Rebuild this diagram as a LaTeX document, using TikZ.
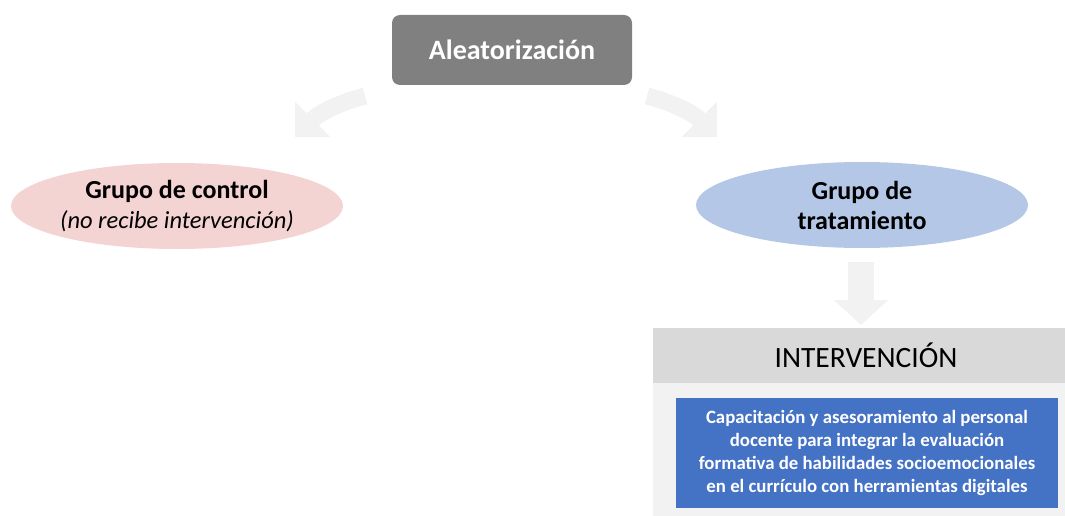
\documentclass[tikz,border=0pt]{standalone}
\usepackage{fontspec}
\setmainfont{Carlito}
\usetikzlibrary{shapes.geometric,arrows.meta}
\definecolor{boxgray}{RGB}{128,128,128}
\definecolor{arrowgray}{RGB}{242,242,242}
\definecolor{headgray}{RGB}{217,217,217}
\definecolor{ctrlpink}{RGB}{244,211,211}
\definecolor{tratblue}{RGB}{180,199,231}
\definecolor{capblue}{RGB}{68,114,196}
\begin{document}
\begin{tikzpicture}[x=1pt,y=-1pt,
  grupo/.style={ellipse,inner sep=0pt,minimum width=332pt,minimum height=86pt,align=center,font=\fontsize{26}{30}\selectfont},
  bigarrow/.style={arrowgray,line width=17pt,-{Triangle[length=25pt,width=48pt]}}]
  \useasboundingbox (0,0) rectangle (1065,516);
  \node[fill=boxgray,rounded corners=8pt,minimum width=240pt,minimum height=70pt,text=white,font=\fontsize{28}{32}\selectfont\bfseries] (aleat) at (512,50) {Aleatorización};
  \node[grupo,fill=ctrlpink] (control) at (177,206) {\textbf{Grupo de control}\\{\fontsize{24.5}{30}\selectfont\itshape (no recibe intervención)}};
  \node[grupo,fill=tratblue] (tratam) at (862,205) {\textbf{Grupo de}\\\textbf{tratamiento}};
  % curved arrows from the randomisation box
  \coordinate (l0) at (365,96);
  \coordinate (l1) at (295,137);
  \coordinate (r0) at (647,96);
  \coordinate (r1) at (717,137);
  \draw[bigarrow] (l0) to[out=195,in=45] (l1);
  \draw[bigarrow] (r0) to[out=-15,in=135] (r1);
  % intervention block
  \fill[arrowgray] (653,383) rectangle (1065,516);
  \fill[headgray] (653,328) rectangle (1065,383);
  \node[font=\fontsize{29.5}{34}\selectfont] (interv) at (866,355) {INTERVENCIÓN};
  \node[fill=capblue,text=white,minimum width=382pt,minimum height=110pt,align=center,font=\fontsize{18.8}{23}\selectfont\bfseries] (capac) at (867,453) {Capacitación y asesoramiento al personal\\docente para integrar la evaluación\\formativa de habilidades socioemocionales\\en el currículo con herramientas digitales};
  \coordinate (d0) at (861,262);
  \coordinate (d1) at (861,325);
  \draw[bigarrow,line width=26pt,-{Triangle[length=25pt,width=53pt]}] (d0) -- (d1);
\end{tikzpicture}
\end{document}
